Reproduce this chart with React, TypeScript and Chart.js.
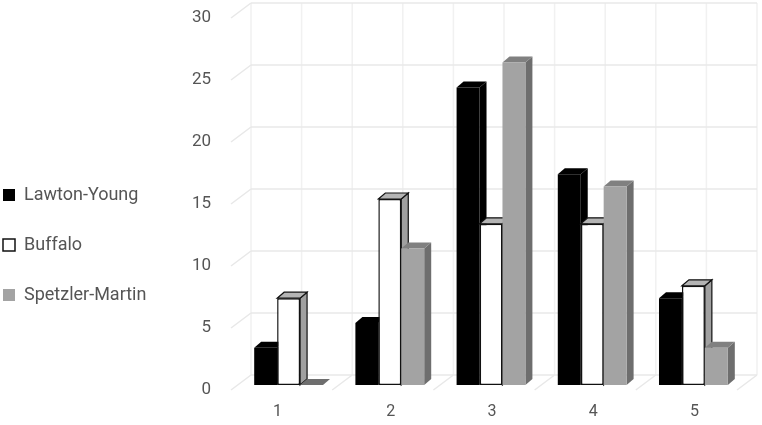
import React, { useEffect, useRef } from "react";
import { Chart, registerables } from "chart.js";

Chart.register(...registerables);

const categories = ["1", "2", "3", "4", "5"];
const lawtonYoung = [3, 5, 24, 17, 7];
const buffalo = [7, 15, 13, 13, 8];
const spetzlerMartin = [0, 11, 26, 16, 3];
const yTicks = [0, 5, 10, 15, 20, 25, 30];

const FONT = "Roboto";
const TEXT = "#555555";

const faces: Record<string, { top: string; side: string; stroke: string | null }> = {
  "Lawton-Young": { top: "#000000", side: "#000000", stroke: null },
  Buffalo: { top: "#b4b4b4", side: "#a0a0a0", stroke: "#111111" },
  "Spetzler-Martin": { top: "#808080", side: "#6e6e6e", stroke: null },
};

const poly = (ctx: CanvasRenderingContext2D, pts: number[][], fill: string, stroke: string | null) => {
  ctx.beginPath();
  pts.forEach((p, i) => (i ? ctx.lineTo(p[0], p[1]) : ctx.moveTo(p[0], p[1])));
  ctx.closePath();
  ctx.fillStyle = fill;
  ctx.fill();
  if (stroke) {
    ctx.strokeStyle = stroke;
    ctx.lineWidth = 1.2;
    ctx.stroke();
  }
};

const line = (ctx: CanvasRenderingContext2D, x1: number, y1: number, x2: number, y2: number, c: string, w: number) => {
  ctx.beginPath();
  ctx.moveTo(x1, y1);
  ctx.lineTo(x2, y2);
  ctx.strokeStyle = c;
  ctx.lineWidth = w;
  ctx.stroke();
};

const scene3d = {
  id: "scene3d",
  afterLayout(chart: any) {
    const legend = chart.legend;
    legend.left -= 29;
    legend.right -= 29;
    legend.top += 42;
    legend.bottom += 42;
  },
  beforeDatasetsDraw(chart: any) {
    const { ctx, scales } = chart;
    const x = scales.x;
    const y = scales.y;
    const backDx = 13;
    const backDy = -10;
    const frontDx = -7;
    const frontDy = 5;
    const bottom = y.getPixelForValue(0);
    const step = x.getPixelForValue(1) - x.getPixelForValue(0);
    ctx.save();
    const backLeft = x.left + backDx;
    const backRight = x.right + backDx;
    for (let k = 0; k <= categories.length * 2; k++) {
      const gx = backLeft + (k * step) / 2;
      line(ctx, gx, y.getPixelForValue(30) + backDy, gx, bottom + backDy, "#f1f1f1", 1.5);
    }
    for (const v of yTicks) {
      const gy = y.getPixelForValue(v);
      line(ctx, backLeft, gy + backDy, backRight, gy + backDy, "#e8e8e8", 1.5);
      line(ctx, x.left + frontDx, gy + frontDy, backLeft, gy + backDy, "#e8e8e8", 1.5);
    }
    for (let k = 1; k <= categories.length; k++) {
      const gx = x.left + k * step;
      line(ctx, gx + frontDx, bottom + frontDy, gx + backDx, bottom + backDy, "#e8e8e8", 1.5);
    }

    // Bars are painted left to right, so each one covers its neighbour's side face.
    const dx = 7;
    const dy = -6;
    chart.data.datasets.forEach((ds: any, i: number) => {
      const meta = chart.getDatasetMeta(i);
      const f = faces[ds.label];
      meta.data.forEach((bar: any) => {
        const p = bar.getProps(["x", "y", "base", "width"], true);
        const l = p.x - p.width / 2;
        const r = p.x + p.width / 2;
        poly(ctx, [[r, p.y], [r + dx, p.y + dy], [r + dx, p.base + dy], [r, p.base]], f.side, f.stroke);
        poly(ctx, [[l, p.y], [l + dx, p.y + dy], [r + dx, p.y + dy], [r, p.y]], p.y === p.base ? f.side : f.top, f.stroke);
      });
      meta.controller.draw();
    });

    // Category labels under the bars; the first one sits left of its group.
    ctx.fillStyle = TEXT;
    ctx.font = `16px ${FONT}`;
    ctx.textAlign = "center";
    ctx.textBaseline = "middle";
    categories.forEach((c, i) => {
      ctx.fillText(c, x.getPixelForValue(i) + (i === 0 ? -11 : 1), 412);
    });
    ctx.restore();
    return false;
  },
};

export default function App() {
  const ref = useRef<HTMLCanvasElement>(null);
  useEffect(() => {
    document.body.style.margin = "0";
    const chart = new Chart(ref.current as HTMLCanvasElement, {
      type: "bar",
      data: {
        labels: categories,
        datasets: [
          { label: "Lawton-Young", data: lawtonYoung, backgroundColor: "#000000", borderWidth: 0 },
          { label: "Buffalo", data: buffalo, backgroundColor: "#ffffff", borderColor: "#111111", borderWidth: 1.5, borderSkipped: false },
          { label: "Spetzler-Martin", data: spetzlerMartin, backgroundColor: "#a3a3a3", borderWidth: 0 },
        ],
      },
      options: {
        responsive: false,
        animation: false,
        layout: { padding: { top: 13, right: 18, bottom: 32, left: 0 } },
        datasets: { bar: { categoryPercentage: 0.68, barPercentage: 1 } },
        plugins: {
          tooltip: { enabled: false },
          legend: {
            position: "left",
            align: "center",
            labels: {
              boxWidth: 12,
              boxHeight: 12,
              padding: 32,
              color: TEXT,
              font: { family: FONT, size: 18 },
            },
          },
        },
        scales: {
          x: {
            grid: { display: false },
            border: { display: false },
            ticks: { display: false },
          },
          y: {
            min: 0,
            max: 30,
            afterFit: (s: any) => {
              s.width = 238 - s.chart.legend.width;
              s.paddingTop = 0;
              s.paddingBottom = 0;
            },
            grid: { display: false, drawTicks: false },
            border: { display: false },
            afterBuildTicks: (s: any) => {
              s.ticks = yTicks.map((value) => ({ value }));
            },
            ticks: {
              color: TEXT,
              font: { family: FONT, size: 17 },
              padding: 27,
              labelOffset: 5,
            },
          },
        },
      },
      plugins: [scene3d],
    } as any);
    return () => chart.destroy();
  }, []);
  return <canvas ref={ref} width={762} height={425} style={{ display: "block" }} />;
}
